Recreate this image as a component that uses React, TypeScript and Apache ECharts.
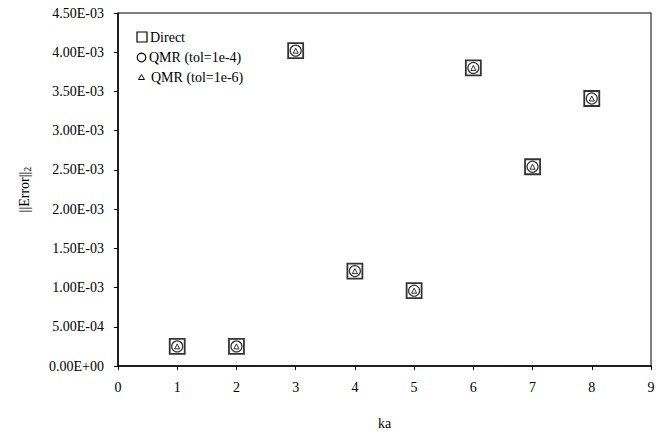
import React, { useEffect, useRef } from "react";
import * as echarts from "echarts";

const kaValues = [1, 2, 3, 4, 5, 6, 7, 8];
const directErr = [2.5e-4, 2.5e-4, 4.02e-3, 1.21e-3, 9.6e-4, 3.8e-3, 2.54e-3, 3.41e-3];
const qmr4Err = [2.5e-4, 2.5e-4, 4.02e-3, 1.21e-3, 9.6e-4, 3.8e-3, 2.54e-3, 3.41e-3];
const qmr6Err = [2.5e-4, 2.5e-4, 4.02e-3, 1.21e-3, 9.6e-4, 3.8e-3, 2.54e-3, 3.41e-3];
const seriesNames = ["Direct", "QMR (tol=1e-4)", "QMR (tol=1e-6)"];

const FONT = "Liberation Serif";

function sci(v: number): string {
  if (v === 0) return "0.00E+00";
  const [m, e] = v.toExponential(2).split("e");
  const n = parseInt(e, 10);
  const sign = n < 0 ? "-" : "+";
  const abs = Math.abs(n);
  return `${m}E${sign}${abs < 10 ? "0" + abs : abs}`;
}

// Hand-drawn legend: each symbol keeps its own size, as in the plotted markers
function legendGraphics() {
  const txt = (x: number, y: number, s: string) => ({
    type: "text",
    x,
    y,
    style: { text: s, fontFamily: FONT, fontSize: 14, fill: "#000", textVerticalAlign: "middle" },
  });
  return [
    { type: "rect", shape: { x: 137, y: 32, width: 10, height: 10 }, style: { fill: "#fff", stroke: "#000", lineWidth: 1.2 } },
    txt(150, 37.5, seriesNames[0]),
    { type: "circle", shape: { cx: 141.5, cy: 57.5, r: 4.3 }, style: { fill: "#fff", stroke: "#000", lineWidth: 1.2 } },
    txt(149, 57.5, seriesNames[1]),
    {
      type: "polygon",
      shape: { points: [[141.5, 74.5], [144.5, 79.5], [138.5, 79.5]] },
      style: { fill: "#fff", stroke: "#000", lineWidth: 1 },
    },
    txt(151, 77.5, seriesNames[2]),
  ];
}

export default function App() {
  const ref = useRef<HTMLDivElement>(null);
  useEffect(() => {
    if (!ref.current) return;
    const chart = echarts.init(ref.current, null, { renderer: "svg" });
    const pts = (ys: number[]) => kaValues.map((x, i) => [x, ys[i]]);
    chart.setOption({
      animation: false,
      backgroundColor: "#fff",
      textStyle: { fontFamily: FONT, color: "#000" },
      grid: {
        left: 118,
        right: 13,
        top: 13,
        bottom: 67,
        show: true,
        borderColor: "#000",
        borderWidth: 1,
        backgroundColor: "transparent",
      },
      graphic: legendGraphics(),
      xAxis: {
        type: "value",
        min: 0,
        max: 9,
        interval: 1,
        name: "ka",
        nameLocation: "middle",
        nameGap: 50,
        nameTextStyle: { fontFamily: FONT, fontSize: 14, color: "#000" },
        axisLine: { lineStyle: { color: "#000", width: 1.5 } },
        axisTick: { show: true, length: 4, inside: false, lineStyle: { color: "#000" } },
        axisLabel: { fontFamily: FONT, fontSize: 14, color: "#000", margin: 14 },
        splitLine: { show: false },
      },
      yAxis: {
        type: "value",
        min: 0,
        max: 4.5e-3,
        interval: 5e-4,
        name: "{a|||Error||}{s|2}",
        nameLocation: "middle",
        nameGap: 86,
        nameRotate: 90,
        nameTextStyle: {
          rich: {
            a: { fontFamily: FONT, fontSize: 14, color: "#000" },
            s: { fontFamily: FONT, fontSize: 10, color: "#000", verticalAlign: "bottom", padding: [6, 0, 0, 0] },
          },
        },
        axisLine: { lineStyle: { color: "#000", width: 1.5 } },
        axisTick: { show: true, length: 4, inside: false, lineStyle: { color: "#000" } },
        axisLabel: { fontFamily: FONT, fontSize: 14, color: "#000", margin: 14, formatter: (v: number) => sci(v) },
        splitLine: { show: false },
      },
      series: [
        {
          name: seriesNames[0],
          type: "scatter",
          symbol: "rect",
          symbolSize: 15,
          itemStyle: { color: "#fff", borderColor: "#000", borderWidth: 1.8 },
          data: pts(directErr),
          z: 1,
        },
        {
          name: seriesNames[1],
          type: "scatter",
          symbol: "circle",
          symbolSize: 11,
          itemStyle: { color: "#fff", borderColor: "#000", borderWidth: 1.2 },
          data: pts(qmr4Err),
          z: 2,
        },
        {
          name: seriesNames[2],
          type: "scatter",
          symbol: "triangle",
          symbolSize: 5,
          itemStyle: { color: "#fff", borderColor: "#000", borderWidth: 1 },
          data: pts(qmr6Err),
          z: 3,
        },
      ],
    });
    return () => chart.dispose();
  }, []);
  return <div ref={ref} style={{ width: 664, height: 435, position: "absolute", left: 0, top: 0 }} />;
}
